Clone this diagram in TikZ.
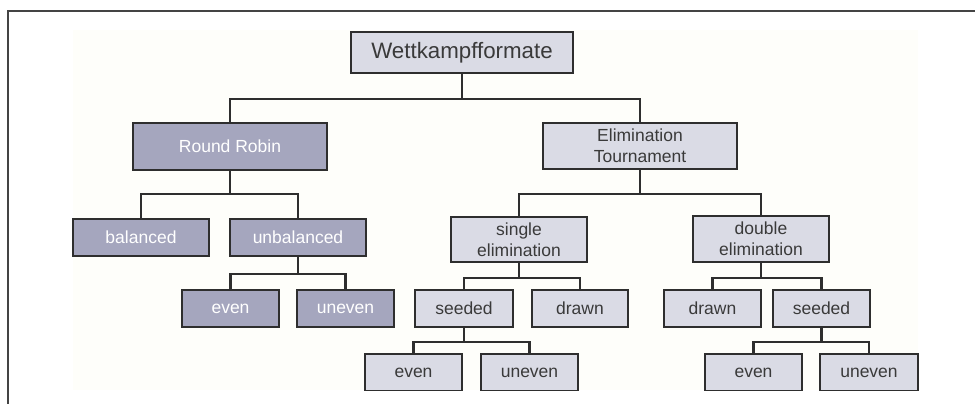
\documentclass[tikz,border=0pt]{standalone}
\usepackage{fontspec}
\setmainfont{Liberation Sans}
\definecolor{darkfill}{HTML}{A5A6BE}
\definecolor{lightfill}{HTML}{DADBE5}
\definecolor{boxline}{HTML}{2E2E2E}
\definecolor{cream}{HTML}{FEFEFA}
\definecolor{txtdark}{HTML}{3A3A3A}
\definecolor{frameline}{HTML}{444444}
\tikzset{
  nodebase/.style={draw=boxline, line width=2.3pt, rectangle, inner sep=0pt, align=center,
    font=\fontsize{17.5}{21}\selectfont},
  darkbox/.style={nodebase, fill=darkfill, text=white},
  lightbox/.style={nodebase, fill=lightfill, text=txtdark},
  conn/.style={draw=boxline, line width=2.3pt},
}
\begin{document}
\begin{tikzpicture}[x=1pt,y=-1pt]
\useasboundingbox (0,0) rectangle (975,404);
\fill[white] (0,0) rectangle (975,404);
\fill[cream] (73,30) rectangle (918,390);
\begin{scope}
\clip (0,0) rectangle (975,390);
% level 0
\node[lightbox, minimum width=222pt, minimum height=41pt, font=\fontsize{22.3}{26}\selectfont] (W) at (462,52.5) {Wettkampfformate};
% level 1
\node[darkbox, minimum width=194pt, minimum height=47pt] (RR) at (230,146.5) {Round Robin};
\node[lightbox, minimum width=194pt, minimum height=46pt] (ET) at (640,146) {Elimination\\Tournament};
% level 2
\node[darkbox, minimum width=136pt, minimum height=37pt] (bal) at (141,237.5) {balanced};
\node[darkbox, minimum width=136pt, minimum height=37pt] (unb) at (298,237.5) {unbalanced};
\node[lightbox, minimum width=136pt, minimum height=45pt] (se) at (519,239.5) {single\\elimination};
\node[lightbox, minimum width=136pt, minimum height=46pt] (de) at (761,239) {double\\elimination};
% level 3
\node[darkbox, minimum width=97pt, minimum height=37pt] (ev1) at (230.5,308.5) {even};
\node[darkbox, minimum width=97pt, minimum height=37pt] (unev1) at (345.5,308.5) {uneven};
\node[lightbox, minimum width=98pt, minimum height=37pt] (sd1) at (464,308.5) {seeded};
\node[lightbox, minimum width=96pt, minimum height=37pt] (dr1) at (580,308.5) {drawn};
\node[lightbox, minimum width=97pt, minimum height=37pt] (dr2) at (712.5,308.5) {drawn};
\node[lightbox, minimum width=97pt, minimum height=37pt] (sd2) at (821.5,308.5) {seeded};
% level 4
\node[lightbox, minimum width=97pt, minimum height=37pt] (ev2) at (413.5,372.5) {even};
\node[lightbox, minimum width=97pt, minimum height=37pt] (unev2) at (529.5,372.5) {uneven};
\node[lightbox, minimum width=97pt, minimum height=37pt] (ev3) at (753.5,372.5) {even};
\node[lightbox, minimum width=98pt, minimum height=37pt] (unev3) at (869,372.5) {uneven};
% connectors
\draw[conn] (W.south) -- ++(0,25) -| (RR.north);
\draw[conn] (W.south) -- ++(0,25) -| (ET.north);
\draw[conn] (RR.south) -- ++(0,23) -| (bal.north);
\draw[conn] (RR.south) -- ++(0,23) -| (unb.north);
\draw[conn] (ET.south) -- ++(0,24) -| (se.north);
\draw[conn] (ET.south) -- ++(0,24) -| (de.north);
\draw[conn] (unb.south) -- ++(0,17) -| (ev1.north);
\draw[conn] (unb.south) -- ++(0,17) -| (unev1.north);
\draw[conn] (se.south) -- ++(0,15) -| (sd1.north);
\draw[conn] (se.south) -- ++(0,15) -| (dr1.north);
\draw[conn] (de.south) -- ++(0,15) -| (dr2.north);
\draw[conn] (de.south) -- ++(0,15) -| (sd2.north);
\draw[conn] (sd1.south) -- ++(0,14) -| (ev2.north);
\draw[conn] (sd1.south) -- ++(0,14) -| (unev2.north);
\draw[conn] (sd2.south) -- ++(0,14) -| (ev3.north);
\draw[conn] (sd2.south) -- ++(0,14) -| (unev3.north);
\end{scope}
% frame
\draw[frameline, line width=1.6pt] (975,11) -- (8,11) -- (8,404);
\end{tikzpicture}
\end{document}
